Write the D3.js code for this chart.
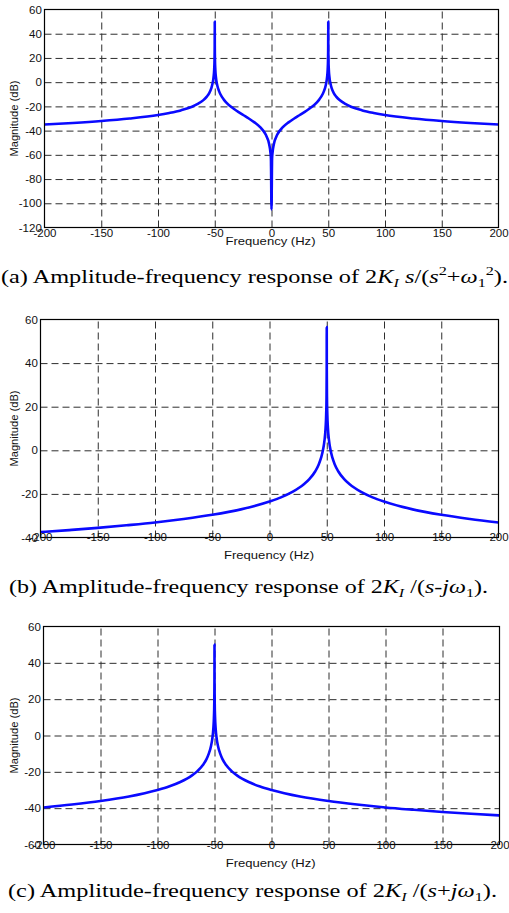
<!DOCTYPE html>
<html><head><meta charset="utf-8">
<script src="https://cdn.jsdelivr.net/npm/d3@7"></script>
<style>body{margin:0;background:#fff} svg{display:block}</style>
</head><body>
<svg id="fig" width="509" height="913"></svg>
<script>
// ---- data ----
const xTicks = [-200,-150,-100,-50,0,50,100,150,200];
const yTicksA = [-120,-100,-80,-60,-40,-20,0,20,40,60];
const yTicksB = [-40,-20,0,20,40,60];
const yTicksC = [-60,-40,-20,0,20,40,60];

const freqA = [-200,-175,-150,-125,-100,-90,-80,-70,-65,-60,-57,-55,-53,-52,-51,-50.5,-50.2,-50.05,-50,-49.95,-49.8,-49.5,-49,-48,-47,-45,-42,-40,-35,-30,-25,-20,-15,-10,-5,-2,-1,-0.5,0,
  0.5,1,2,5,10,15,20,25,30,35,40,42,45,47,48,49,49.5,49.8,49.95,50,50.05,50.2,50.5,51,52,53,55,57,60,65,70,80,90,100,125,150,175,200];
const magA = [-35.0,-33.7,-32.1,-30.0,-27.1,-25.4,-23.3,-20.3,-18.0,-14.8,-11.9,-9.2,-4.9,-1.4,4.5,10.5,18.5,30.5,50.0,30.4,18.4,10.4,4.3,-1.8,-5.4,-10.0,-14.4,-16.6,-20.8,-24.1,-27.1,-30.0,-33.2,-37.2,-43.5,-51.5,-57.5,-63.5,-105,
  -63.5,-57.5,-51.5,-43.5,-37.2,-33.2,-30.0,-27.1,-24.1,-20.8,-16.6,-14.4,-10.0,-5.4,-1.8,4.3,10.4,18.4,30.4,50.0,30.5,18.5,10.5,4.5,-1.4,-4.9,-9.2,-11.9,-14.8,-18.0,-20.3,-23.3,-25.4,-27.1,-30.0,-32.1,-33.7,-35.0];

const freqB = [-200,-175,-150,-125,-100,-75,-50,-25,0,10,20,30,35,40,43,45,47,48,49,49.5,49.8,49.95,50,50.05,50.2,50.5,51,52,53,55,57,60,65,70,80,90,100,125,150,175,200];
const magB = [-37.5,-36.6,-35.6,-34.4,-33.1,-31.5,-29.6,-27.1,-23.5,-21.6,-19.1,-15.6,-13.1,-9.6,-6.5,-3.5,0.9,4.4,10.4,16.5,24.4,36.5,56.5,36.5,24.4,16.5,10.4,4.4,0.9,-3.5,-6.5,-9.6,-13.1,-15.6,-19.1,-21.6,-23.5,-27.1,-29.6,-31.5,-33.1];

const freqC = [-200,-175,-150,-125,-100,-90,-80,-70,-65,-60,-57,-55,-53,-52,-51,-50.5,-50.2,-50.05,-50,-49.95,-49.8,-49.5,-49,-48,-47,-45,-43,-40,-35,-30,-20,-10,0,25,50,75,100,125,150,175,200];
const magC = [-39.6,-38.0,-36.1,-33.6,-30.0,-28.1,-25.6,-22.1,-19.6,-16.1,-13.0,-10.0,-5.6,-2.1,3.9,10.0,17.9,30.0,50.0,30.0,17.9,10.0,3.9,-2.1,-5.6,-10.0,-13.0,-16.1,-19.6,-22.1,-25.6,-28.1,-30.0,-33.6,-36.1,-38.0,-39.6,-40.9,-42.1,-43.1,-44.0];

const xTitle = "Frequency (Hz)";
const yTitle = "Magnitude (dB)";

// ---- drawing ----
const svg = d3.select("#fig");
const SANS = "'Liberation Sans', Arial, sans-serif";
const SERIF = "'Liberation Serif', 'Times New Roman', serif";
const fmt = d => String(d);   // plain hyphen-minus, as in the reference

function panel(id, g) {
  const x = d3.scaleLinear().domain([xTicks[0], xTicks[xTicks.length-1]]).range([g.left, g.right]);
  const y = d3.scaleLinear().domain([g.yTicks[0], g.yTicks[g.yTicks.length-1]]).range([g.bottom, g.top]);
  const G = svg.append("g");
  const h = g.bottom - g.top, w = g.right - g.left;

  // grid (dashed)
  const gx = G.append("g").attr("transform", `translate(0,${g.bottom})`)
    .call(d3.axisBottom(x).tickValues(xTicks.slice(1,-1)).tickSize(-h).tickFormat(""));
  const gy = G.append("g").attr("transform", `translate(${g.left},0)`)
    .call(d3.axisLeft(y).tickValues(g.yTicks.slice(1,-1)).tickSize(-w).tickFormat(""));
  [gx, gy].forEach(a => {
    a.select(".domain").remove();
    a.selectAll("line").attr("stroke", "#2e2e2e").attr("stroke-width", 1).attr("stroke-dasharray", "7,4");
  });

  // curve
  G.append("clipPath").attr("id", "clip" + id).append("rect")
    .attr("x", g.left).attr("y", g.top).attr("width", w).attr("height", h);
  const data = g.freq.map((f, i) => [f, g.mag[i]]);
  G.append("path").datum(data)
    .attr("clip-path", `url(#clip${id})`)
    .attr("fill", "none").attr("stroke", "#0a0aff").attr("stroke-width", 2.6)
    .attr("stroke-linejoin", "round")
    .attr("d", d3.line().x(d => x(d[0])).y(d => y(d[1])).curve(d3.curveMonotoneX));

  // frame
  G.append("rect").attr("x", g.left).attr("y", g.top).attr("width", w).attr("height", h)
    .attr("fill", "none").attr("stroke", "#000").attr("stroke-width", 1.2);

  // tick labels
  const lx = G.append("g").attr("transform", `translate(0,${g.bottom})`)
    .call(d3.axisBottom(x).tickValues(xTicks).tickSize(0).tickPadding(0).tickFormat(fmt));
  lx.select(".domain").remove();
  lx.selectAll("text").attr("dy", null).attr("y", g.xLabBase - g.bottom)
    .attr("font-family", SANS).attr("font-size", 11.5).attr("fill", "#111");
  const ly = G.append("g").attr("transform", `translate(${g.left},0)`)
    .call(d3.axisLeft(y).tickValues(g.yTicks).tickSize(0).tickPadding(2.7).tickFormat(fmt));
  ly.select(".domain").remove();
  ly.selectAll("text").attr("font-family", SANS).attr("font-size", 11.5).attr("fill", "#111");

  // axis titles
  G.append("text").attr("x", g.xTitleX).attr("y", g.xTitleBase).attr("text-anchor", "middle")
    .attr("font-family", SANS).attr("font-size", 10.5).attr("fill", "#111")
    .attr("textLength", 90).attr("lengthAdjust", "spacingAndGlyphs").text(xTitle);
  G.append("text").attr("transform", `translate(18,${(g.top+g.bottom)/2}) rotate(-90)`)
    .attr("text-anchor", "middle")
    .attr("font-family", SANS).attr("font-size", 10.5).attr("fill", "#111")
    .attr("textLength", 76).attr("lengthAdjust", "spacingAndGlyphs").text(yTitle);

  // caption
  const t = svg.append("text").attr("x", g.capX).attr("y", g.capBase)
    .attr("font-family", SERIF).attr("font-size", 19.5).attr("fill", "#000")
    .attr("textLength", g.capLen).attr("lengthAdjust", "spacingAndGlyphs")
    .style("white-space", "pre");
  g.caption.forEach(p => {
    const s = t.append("tspan").text(p.t);
    if (p.i) s.attr("font-style", "italic");
    if (p.dy) s.attr("dy", p.dy);
    if (p.fs) s.attr("font-size", p.fs);
  });
}

const capHead = (l) => ({t: `(${l}) Amplitude-frequency response of 2`});

panel("a", {left:44.5, right:498.5, top:9.5, bottom:227.5, yTicks:yTicksA, freq:freqA, mag:magA,
  xLabBase:237, xTitleX:270.5, xTitleBase:245, capX:1, capBase:283, capLen:507,
  caption:[capHead("a"), {t:"K", i:1}, {t:"I", i:1, fs:13, dy:4}, {t:" ", dy:-4}, {t:"s", i:1}, {t:"/("},
    {t:"s", i:1}, {t:"2", fs:13, dy:-8}, {t:"+", dy:8}, {t:"ω", i:1}, {t:"1", fs:13, dy:4}, {t:"2", fs:13, dy:-12}, {t:").", dy:8}]});

panel("b", {left:40.5, right:498.5, top:319.5, bottom:537.5, yTicks:yTicksB, freq:freqB, mag:magB,
  xLabBase:540.5, xTitleX:269, xTitleBase:558.5, capX:9, capBase:593, capLen:479,
  caption:[capHead("b"), {t:"K", i:1}, {t:"I", i:1, fs:13, dy:4}, {t:" /(", dy:-4}, {t:"s", i:1}, {t:"-"},
    {t:"jω", i:1}, {t:"1", fs:13, dy:4}, {t:").", dy:-4}]});

panel("c", {left:43.5, right:499.5, top:626.5, bottom:844.5, yTicks:yTicksC, freq:freqC, mag:magC,
  xLabBase:848.5, xTitleX:270.7, xTitleBase:866.5, capX:8, capBase:897, capLen:489,
  caption:[capHead("c"), {t:"K", i:1}, {t:"I", i:1, fs:13, dy:4}, {t:" /(", dy:-4}, {t:"s", i:1}, {t:"+"},
    {t:"jω", i:1}, {t:"1", fs:13, dy:4}, {t:").", dy:-4}]});
</script>
</body></html>
